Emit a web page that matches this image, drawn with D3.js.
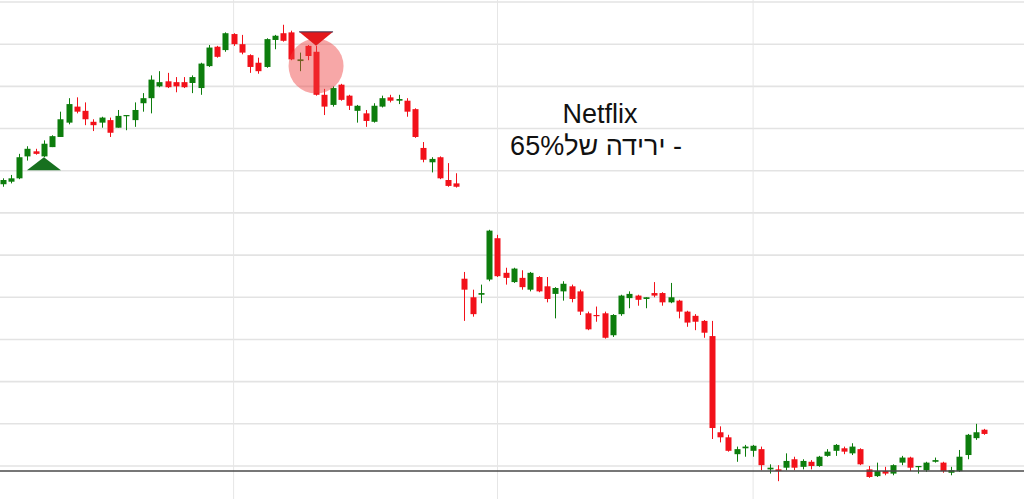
<!DOCTYPE html>
<meta charset="utf-8">
<style>
  body { margin: 0; background: #fff; }
  svg { display: block; }
</style>
<svg width="1024" height="499"></svg>

<script src="https://d3js.org/d3.v7.min.js"></script>
<script>
// daily candles, oldest first
var opens = [484,487,491,517,523,517,528,540,557,576,571,558,557,560,551,565,560,580,586,600,
  606,605,605,604,598,624,647,643,662,650,637,628,623,655,663,664,630,648,641,590,
  578,602,589,571,568,558,576,587,583,583,573,527,510,516,489,485,372,350,353,371,
  420,379,368,373,359,374,363,354,357,363,357,331,329,331,305,330,349,352,348,355,
  355,344,346,333,328,322,304,190,184,164,171,168,170,146,146,148,158,149,155,150,
  162,168,171,165,170,146,138,144,141,154,160,149,145,155,154,142,144,163,183,193]
var highs = [491,495,520,529,526,536,542,570,586,587,581,561,564,563,572,566,581,592,613,618,
  616,611,611,613,628,649,648,664,663,661,638,634,657,661,673,666,640,649,648,597,
  600,603,590,578,572,580,589,590,590,586,574,534,516,517,509,497,380,359,365,430,
  424,385,385,382,380,375,374,362,369,365,359,333,339,333,330,353,357,353,350,368,
  356,367,347,334,330,323,322,197,187,173,175,175,173,152,151,165,161,158,157,162,
  170,176,173,177,171,150,154,149,152,162,161,150,155,160,155,149,169,188,200,194]
var lows = [481,485,490,512,519,516,528,540,555,568,554,547,551,540,551,548,552,570,568,599,
  598,593,598,592,590,623,634,641,648,638,616,615,622,644,653,631,618,631,589,566,
  576,583,572,557,552,557,575,581,579,564,539,510,498,490,481,480,322,327,343,369,
  374,365,367,359,357,356,344,325,346,344,329,311,321,301,303,328,337,340,337,350,
  340,343,325,315,311,302,182,178,167,155,161,161,145,141,132,145,145,146,146,149,
  161,162,164,163,151,136,137,139,139,151,144,141,143,154,142,139,143,158,181,187]
var closes = [489,491,516,526,520,532,541,561,579,570,561,554,563,545,565,566,572,586,608,605,
  599,600,599,611,627,646,635,663,650,640,623,618,656,660,654,632,632,636,590,576,
  598,584,577,577,559,577,586,583,585,570,540,513,514,491,482,481,359,330,355,429,
  375,373,384,362,379,357,348,361,366,348,333,312,328,302,329,352,354,347,350,352,
  344,350,333,320,321,308,195,184,168,170,173,174,151,148,144,156,148,156,150,161,
  167,175,167,173,152,137,144,141,151,160,148,150,154,157,144,145,161,187,190,188]

var gridValues = [150, 200, 250, 300, 350, 400, 450, 500, 550, 600, 650, 700]
var monthStarts = [28, 60, 91]
var lastPrice = 144

var buySignal = 5
var sellSignal = 38
var highlight = { index: 38, price: 624 }

var titleLines = ['Netflix', '- ירידה של65%']

var width = 1024
var height = 499

var svg = d3.select('svg')

var x = d3.scaleLinear().domain([0, opens.length - 1]).range([2.7, 984])
var y = d3.scaleLinear().domain([150, 700]).range([466, 2])

var up = '#0d7d0d'
var down = '#f2111a'

// grid
svg.append('g').selectAll('line').data(gridValues).enter().append('line')
  .attr('x1', 0).attr('x2', width)
  .attr('y1', function (d) { return y(d) })
  .attr('y2', function (d) { return y(d) })
  .attr('stroke', '#e3e3e3').attr('stroke-width', 1.6)

svg.append('g').selectAll('line').data(monthStarts).enter().append('line')
  .attr('x1', function (d) { return x(d) })
  .attr('x2', function (d) { return x(d) })
  .attr('y1', 0).attr('y2', height)
  .attr('stroke', '#e6e6e6').attr('stroke-width', 1)

// candles
var candles = opens.map(function (o, i) {
  return { i: i, o: o, h: highs[i], l: lows[i], c: closes[i] }
})

var candleGroup = svg.append('g')
var candle = candleGroup.selectAll('g').data(candles).enter().append('g')
  .attr('fill', function (d) { return d.c >= d.o ? up : down })
  .attr('stroke', function (d) { return d.c >= d.o ? up : down })

candle.append('line')
  .attr('x1', function (d) { return Math.round(x(d.i)) + 0.5 })
  .attr('x2', function (d) { return Math.round(x(d.i)) + 0.5 })
  .attr('y1', function (d) { return y(d.h) })
  .attr('y2', function (d) { return y(d.l) })
  .attr('stroke-width', 1)

candle.append('rect')
  .attr('stroke', 'none')
  .attr('x', function (d) { return Math.round(x(d.i)) - 2.5 })
  .attr('width', 6)
  .attr('y', function (d) { return y(Math.max(d.o, d.c)) })
  .attr('height', function (d) { return Math.max(1.2, Math.abs(y(d.o) - y(d.c))) })

// last price line
svg.append('line')
  .attr('x1', 0).attr('x2', width)
  .attr('y1', y(lastPrice)).attr('y2', y(lastPrice))
  .attr('stroke', '#4a4a4a').attr('stroke-width', 1.6)

// highlight circle on the sell candle
svg.append('circle')
  .attr('cx', x(highlight.index))
  .attr('cy', y(highlight.price))
  .attr('r', 27.5)
  .attr('fill', 'rgba(238, 60, 60, 0.45)')

// buy / sell markers
var bx = x(buySignal), by = y(lows[buySignal])
svg.append('path')
  .attr('d', 'M' + (bx - 17) + ',' + (by + 13) + 'L' + bx + ',' + by + 'L' + (bx + 17) + ',' + (by + 13) + 'Z')
  .attr('fill', '#17701f')

var sx = x(sellSignal), sy = y(highs[sellSignal])
svg.append('path')
  .attr('d', 'M' + (sx - 17) + ',' + (sy - 14) + 'L' + sx + ',' + sy + 'L' + (sx + 17) + ',' + (sy - 14) + 'Z')
  .attr('fill', '#e3191c')
svg.append('line')
  .attr('x1', sx - 17).attr('x2', sx + 17)
  .attr('y1', sy - 14).attr('y2', sy - 14)
  .attr('stroke', '#3a3a5a').attr('stroke-width', 1)

// title
svg.append('text')
  .attr('x', 600).attr('y', 123)
  .attr('text-anchor', 'middle')
  .attr('font-family', 'Liberation Sans, Arial, sans-serif')
  .attr('font-size', 27)
  .attr('fill', '#111')
  .text(titleLines[0])

svg.append('text')
  .attr('x', 596).attr('y', 155)
  .attr('text-anchor', 'middle')
  .attr('direction', 'rtl')
  .attr('font-family', 'Liberation Sans, Arial, sans-serif')
  .attr('font-size', 27)
  .attr('fill', '#111')
  .text(titleLines[1])
</script>
